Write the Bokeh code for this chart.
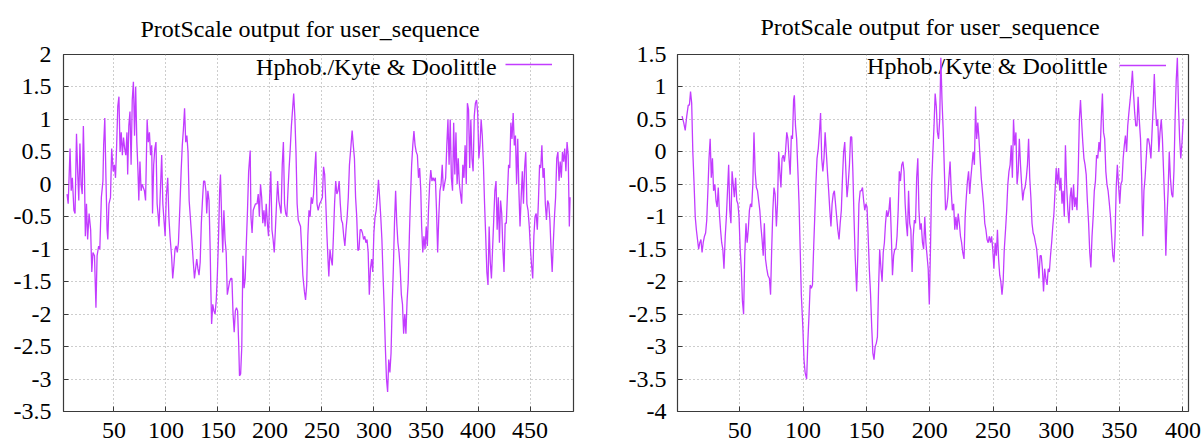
from bokeh.plotting import figure
from bokeh.layouts import row
from bokeh.models import (Range1d, FixedTicker, Label, Legend, LegendItem,
                          CustomJSTickFormatter)
from bokeh.embed import file_html
from bokeh.resources import INLINE

TITLE = "ProtScale output for user_sequence"
SERIES = "Hphob./Kyte & Doolittle"

# ---- left panel: position (residue) and hydrophobicity score ----
left_x = [
    4.9, 6.0, 7.8, 8.9, 10.0, 11.5, 12.6, 14.0, 15.1, 16.2,
    17.3, 18.4, 19.5, 20.6, 21.7, 22.5, 23.6, 24.7, 26.1, 27.6,
    28.7, 29.8, 31.3, 32.7, 33.8, 35.3, 36.4, 37.9, 39.4, 40.1,
    41.2, 42.3, 43.4, 44.1, 45.2, 46.7, 47.8, 49.3, 50.4, 51.5,
    52.6, 53.7, 54.8, 55.9, 57.0, 58.1, 59.2, 60.3, 61.4, 62.5,
    63.2, 64.3, 65.4, 66.5, 67.6, 68.7, 69.8, 70.9, 72.0, 73.1,
    73.9, 75.0, 76.1, 77.1, 78.2, 79.3, 80.4, 81.9, 83.0, 84.1,
    85.2, 86.3, 87.1, 88.2, 89.3, 90.4, 91.5, 92.6, 93.3, 94.4,
    95.9, 97.0, 98.1, 99.2, 100.3, 101.7, 102.8, 103.9, 105.4, 106.5,
    107.6, 108.7, 109.8, 110.9, 112.0, 113.5, 114.6, 115.7, 116.8, 117.9,
    119.0, 120.1, 121.2, 122.3, 123.4, 124.9, 126.3, 127.4, 128.5, 129.6,
    130.7, 131.8, 132.9, 134.0, 135.1, 136.2, 137.3, 138.4, 139.2, 140.3,
    141.4, 142.5, 143.2, 143.9, 145.0, 146.1, 147.2, 148.3, 149.4, 150.5,
    151.6, 152.4, 153.5, 154.6, 155.7, 156.8, 157.9, 159.0, 160.1, 161.2,
    162.3, 163.4, 164.5, 165.6, 166.7, 167.8, 168.9, 170.0, 170.7, 171.8,
    172.9, 174.0, 175.1, 176.2, 177.3, 178.4, 179.5, 181.0, 181.7, 182.8,
    183.9, 185.0, 186.1, 187.6, 188.7, 189.8, 190.9, 192.0, 193.1, 194.2,
    195.3, 196.4, 197.5, 198.6, 199.7, 200.8, 201.9, 203.0, 204.1, 205.2,
    206.3, 207.4, 208.5, 209.6, 210.7, 211.8, 212.9, 214.0, 215.1, 216.2,
    217.3, 218.4, 219.5, 220.6, 221.7, 222.8, 223.9, 225.0, 226.1, 227.2,
    228.3, 229.4, 230.5, 231.6, 233.1, 234.2, 235.3, 236.4, 237.5, 238.6,
    239.7, 240.8, 241.9, 243.0, 244.1, 245.2, 246.3, 247.8, 249.3, 250.4,
    251.5, 252.6, 253.7, 254.8, 255.9, 256.6, 257.7, 258.8, 259.9, 261.0,
    262.1, 263.2, 264.3, 265.4, 266.5, 267.6, 268.7, 269.8, 270.9, 272.0,
    273.1, 274.2, 275.3, 276.4, 277.9, 279.0, 280.1, 281.2, 282.3, 283.4,
    284.5, 285.6, 286.7, 287.8, 288.9, 290.0, 291.1, 292.2, 293.3, 294.4,
    295.5, 296.6, 297.7, 298.8, 299.9, 301.0, 302.1, 303.2, 304.3, 305.4,
    306.5, 307.6, 308.7, 309.8, 310.9, 312.0, 313.1, 314.2, 315.3, 316.4,
    317.5, 318.6, 319.7, 320.8, 321.9, 323.0, 324.1, 325.2, 326.3, 327.4,
    328.5, 329.6, 330.7, 331.8, 332.9, 334.0, 335.1, 336.2, 337.3, 338.4,
    339.5, 340.6, 341.7, 342.8, 343.9, 345.0, 345.8, 346.9, 348.0, 349.1,
    350.2, 351.3, 352.4, 353.5, 354.6, 355.7, 356.8, 357.9, 359.0, 360.1,
    361.2, 362.3, 363.4, 364.5, 365.6, 366.7, 367.8, 368.9, 370.0, 371.1,
    372.2, 373.3, 374.4, 375.5, 376.6, 377.7, 378.8, 379.9, 381.0, 382.1,
    383.2, 384.3, 385.4, 386.5, 387.6, 388.7, 389.8, 390.9, 392.0, 393.1,
    394.2, 395.3, 396.4, 397.5, 398.6, 399.7, 400.8, 401.9, 403.0, 404.1,
    405.2, 406.3, 407.4, 408.5, 409.6, 410.7, 411.8, 412.9, 414.0, 415.1,
    416.2, 417.3, 418.4, 419.5, 420.6, 421.7, 422.8, 423.9, 425.0, 426.1,
    427.2, 428.3, 429.4, 430.5, 431.6, 432.7, 433.8, 434.9, 436.0, 437.1,
    438.2, 439.3, 440.4, 441.5, 442.6, 443.7, 444.8, 445.9, 447.0, 448.1,
    449.3, 450.4, 451.5, 452.6, 453.7, 454.8, 455.9, 457.0, 458.1, 459.2,
    460.3, 461.4, 462.5, 463.6, 464.7, 465.8, 466.9, 468.0, 469.1, 470.2,
    471.3, 472.4, 473.5, 474.6, 475.7, 476.8, 477.9, 479.0, 480.1, 481.2,
    482.3, 483.4, 484.5, 485.6, 486.7, 487.8, 488.5,
]
left_y = [
    -0.15, -0.30, 0.55, -0.10, 0.10, -0.40, -0.45, 0.78, 0.20, -0.25,
    0.63, 0.00, -0.15, 0.90, 0.10, -0.80, -0.30, -0.85, -0.45, -0.70,
    -1.35, -1.05, -1.10, -1.90, -1.10, -0.95, -1.00, -0.20, 0.05, 0.60,
    1.02, 0.10, -0.70, -0.85, -0.30, -0.20, 0.55, 0.20, 0.30, 0.10,
    0.60, 1.20, 1.35, 0.50, 0.80, 0.45, 0.72, 0.55, 0.45, 0.80,
    0.15, 0.90, 1.12, 0.30, 1.30, 1.58, 0.75, 1.50, 0.65, 0.20,
    -0.25, 0.35, -0.10, 0.00, -0.05, -0.10, -0.25, 1.00, 0.65, 0.80,
    0.45, 0.60, -0.45, 0.30, 0.55, 0.65, -0.30, -0.50, -0.65, -0.20,
    0.45, -0.30, -0.55, -0.80, -0.20, 0.10, -0.50, -0.80, -1.10, -1.45,
    -1.25, -1.00, -0.95, -1.05, -0.90, -0.30, 0.20, 0.60, 0.85, 1.17,
    0.65, 0.75, 0.50, -0.25, -0.50, -0.85, -1.20, -1.45, -1.30, -1.15,
    -1.30, -1.40, -1.20, -0.60, -0.25, 0.05, 0.05, -0.10, -0.45, -0.10,
    -0.25, -1.00, -1.65, -2.15, -1.85, -1.95, -2.00, -1.80, -1.40, -0.85,
    -0.10, 0.15, -0.50, -1.05, -0.40, -0.85, -1.05, -1.70, -1.60, -1.50,
    -1.45, -1.45, -2.00, -2.28, -1.95, -1.90, -1.95, -2.50, -2.95, -2.92,
    -2.50, -1.10, -1.60, -1.45, -0.90, -0.40, 0.20, 0.52, -0.50, -0.75,
    -0.40, -0.35, -0.30, -0.30, -0.15, -0.50, 0.00, -0.20, -0.60, -0.40,
    -0.65, -0.30, -0.60, -0.80, -0.20, 0.20, -0.70, -0.85, -1.05, -0.70,
    -0.30, 0.05, -0.25, -0.35, -0.45, 0.30, 0.65, -0.30, -0.45, -0.50,
    -0.10, 0.25, 0.55, 0.90, 1.15, 1.40, 1.05, 0.50, -0.30, -0.55,
    -0.60, -0.65, -1.00, -1.40, -1.65, -1.78, -1.55, -0.80, -0.40, -0.50,
    -0.20, -0.30, -0.15, 0.20, 0.50, -0.30, -0.40, -0.30, -0.25, -0.20,
    0.27, 0.15, -0.30, -0.80, -1.20, -1.42, -1.00, -1.15, -1.25, -0.80,
    -0.30, 0.05, -0.15, -0.10, 0.05, -0.30, -0.55, -0.60, -0.80, -0.95,
    -0.70, -0.50, -0.20, 0.30, 0.60, 0.83, 0.60, 0.40, -0.20, -0.50,
    -1.02, -1.00, -0.70, -0.70, -0.75, -0.85, -0.80, -0.90, -0.85, -1.05,
    -1.70, -1.30, -1.15, -1.35, -0.75, -0.50, -0.40, -0.20, 0.07, -0.20,
    -0.50, -0.85, -1.40, -1.90, -2.50, -3.00, -3.20, -2.70, -2.90, -2.60,
    -1.85, -1.30, -0.60, -0.10, -0.60, -0.90, -1.05, -1.30, -1.70, -1.85,
    -2.30, -2.00, -2.30, -1.80, -1.50, -0.80, -0.20, 0.30, 0.60, 0.82,
    0.60, 0.50, 0.45, 0.10, 0.25, -0.10, -0.65, -1.05, -0.80, -1.00,
    -0.65, -0.95, -0.40, 0.00, 0.22, 0.05, 0.10, 0.05, 0.10, -0.40,
    -1.05, -0.50, -0.10, 0.00, 0.30, -0.10, 0.00, 0.10, 0.60, 1.00,
    0.30, 1.00, 0.10, -0.10, 0.95, 0.15, 0.80, 0.00, 0.40, 0.00,
    -0.15, -0.30, 0.30, 0.10, 0.60, 0.00, 1.25, 1.15, 0.25, 1.00,
    0.40, 0.20, 1.05, 1.25, 1.30, 1.10, 0.40, 0.60, 1.00, 0.75,
    0.30, -0.30, -0.80, -1.35, -1.55, -0.65, -1.20, -1.45, -1.00, -0.55,
    -0.10, 0.05, -0.70, -0.20, -0.90, -0.25, -0.45, -1.00, -1.35, -0.60,
    -0.60, -0.15, 0.30, 0.25, 0.95, 0.70, 1.10, 0.60, 0.75, 0.00,
    0.70, -0.10, -0.65, -0.20, 0.20, -0.30, 0.25, 0.50, -0.30, -0.40,
    -0.65, -1.00, -1.25, -1.45, -0.80, -0.50, -0.45, -0.70, -0.25, 0.30,
    0.25, 0.60, 0.10, 0.25, -0.30, -0.55, -0.25, -0.30, -0.55, -1.00,
    -1.35, -0.90, -0.50, -0.20, 0.40, 0.50, 0.05, 0.35, 0.10, 0.50,
    0.35, 0.55, 0.20, 0.65, 0.45, -0.65, -0.20,
]

# ---- right panel ----
right_x = [
    4.4, 5.7, 6.9, 8.1, 9.3, 10.2, 11.1, 12.0, 12.9, 13.9,
    14.8, 15.7, 16.6, 17.5, 18.4, 19.3, 20.2, 21.1, 22.1, 23.0,
    23.9, 24.8, 25.7, 26.6, 27.5, 28.4, 29.3, 30.3, 31.2, 32.1,
    33.0, 33.9, 34.8, 35.7, 36.6, 37.5, 38.5, 39.4, 40.3, 41.2,
    42.1, 43.0, 43.9, 44.8, 45.7, 46.7, 47.6, 48.5, 49.4, 50.3,
    51.2, 52.1, 53.0, 53.9, 54.9, 55.8, 56.7, 57.6, 58.5, 59.4,
    60.3, 61.2, 62.1, 63.1, 64.0, 64.9, 65.8, 66.7, 67.6, 68.5,
    69.4, 70.3, 71.3, 72.2, 73.4, 74.3, 75.2, 76.1, 77.0, 77.9,
    78.9, 79.8, 80.7, 81.6, 82.5, 83.4, 84.3, 85.2, 86.1, 87.1,
    88.0, 88.9, 89.8, 90.7, 91.6, 92.5, 93.1, 94.0, 94.9, 95.9,
    96.8, 97.7, 98.6, 99.8, 100.7, 101.6, 102.8, 103.8, 104.7, 105.6,
    106.5, 107.4, 108.3, 109.2, 110.1, 111.0, 112.0, 112.9, 113.8, 114.7,
    115.6, 116.5, 117.4, 118.3, 119.2, 120.2, 121.1, 122.0, 122.9, 123.8,
    124.7, 125.6, 126.5, 127.4, 128.4, 129.3, 130.2, 131.1, 132.0, 132.9,
    133.8, 134.7, 135.6, 136.6, 137.5, 138.4, 139.3, 140.2, 141.1, 142.3,
    143.2, 144.1, 145.1, 146.0, 146.9, 147.8, 148.7, 149.6, 150.5, 151.4,
    152.3, 153.3, 154.2, 155.1, 156.0, 156.9, 157.8, 158.7, 159.6, 160.5,
    161.5, 162.4, 163.3, 164.2, 165.1, 166.0, 166.9, 167.8, 168.7, 169.7,
    170.6, 171.5, 172.4, 173.3, 174.2, 175.1, 176.0, 176.9, 177.9, 178.8,
    179.7, 180.6, 181.5, 182.4, 183.3, 184.2, 185.1, 186.1, 187.0, 187.9,
    188.8, 189.7, 190.6, 191.5, 192.4, 193.3, 194.3, 195.2, 196.1, 197.0,
    197.9, 198.8, 199.7, 200.6, 201.5, 202.5, 203.4, 204.3, 205.2, 206.1,
    207.0, 207.9, 208.8, 209.7, 210.7, 211.6, 212.5, 213.4, 214.3, 215.2,
    216.1, 217.0, 217.9, 218.9, 219.8, 220.7, 221.6, 222.5, 223.4, 224.3,
    225.2, 226.1, 227.1, 228.0, 228.9, 229.8, 230.7, 231.6, 232.5, 233.4,
    234.3, 235.3, 236.2, 237.1, 238.0, 238.9, 239.8, 240.7, 241.6, 242.5,
    243.5, 244.4, 245.3, 246.2, 247.1, 248.0, 248.9, 249.8, 250.7, 251.7,
    252.6, 253.5, 254.4, 255.3, 256.2, 257.1, 258.0, 258.9, 259.9, 260.8,
    261.7, 262.6, 263.5, 264.4, 265.3, 266.2, 267.1, 268.1, 269.0, 269.9,
    270.8, 271.7, 272.6, 273.5, 274.4, 275.3, 276.3, 277.2, 278.1, 279.0,
    279.9, 280.8, 281.7, 282.6, 283.5, 284.5, 285.4, 286.3, 287.2, 288.1,
    289.0, 289.9, 290.8, 291.7, 292.7, 293.6, 294.5, 295.4, 296.3, 297.2,
    298.1, 299.0, 299.9, 300.9, 301.8, 302.7, 303.6, 304.5, 305.4, 306.3,
    307.2, 308.1, 309.1, 310.0, 310.9, 311.8, 312.7, 313.6, 314.5, 315.4,
    316.3, 317.3, 318.2, 319.1, 320.0, 320.9, 321.8, 322.7, 323.6, 324.5,
    325.5, 326.4, 327.3, 328.2, 329.1, 330.0, 330.9, 331.8, 332.7, 333.7,
    334.6, 335.5, 336.4, 337.3, 338.2, 339.1, 340.0, 340.9, 341.9, 342.8,
    343.7, 344.6, 345.5, 346.4, 347.3, 348.2, 349.1, 350.1, 351.0, 351.9,
    352.8, 353.7, 354.6, 355.5, 356.4, 357.3, 358.3, 359.2, 360.1, 361.0,
    361.9, 362.8, 363.7, 364.6, 365.5, 366.5, 367.4, 368.3, 369.2, 370.1,
    371.0, 371.9, 372.8, 373.7, 374.7, 375.6, 376.5, 377.4, 378.3, 379.2,
    380.1, 381.0, 381.9, 382.9, 383.8, 384.7, 385.6, 386.5, 387.4, 388.3,
    389.2, 390.1, 391.1, 392.0, 392.9, 393.8, 394.7, 395.6, 396.5, 397.4,
    398.3, 399.3, 400.2, 400.8,
]
right_y = [
    0.55, 0.45, 0.33, 0.55, 0.72, 0.72, 0.93, 0.75, 0.00, -0.50,
    -1.00, -1.20, -1.35, -1.50, -1.40, -1.35, -1.55, -1.40, -1.30, -1.25,
    -1.05, -0.60, -0.10, 0.20, -0.40, -0.10, -0.60, -0.50, -0.75, -0.85,
    -0.55, -0.95, -1.20, -1.40, -1.50, -1.80, -1.30, -1.00, -0.60, -0.20,
    -0.90, -1.10, -0.30, -0.50, -0.70, -0.40, -0.75, -0.80, -1.00, -1.50,
    -1.80, -2.30, -2.50, -1.60, -1.10, -1.40, -1.20, -0.90, -0.80, -0.85,
    -0.50, 0.30, -0.30, -0.55, -0.60, -0.75, -0.90, -1.15, -1.35, -1.60,
    -1.10, -1.65, -1.80, -1.90, -1.95, -2.20, -1.50, -0.90, -0.55, -0.65,
    -1.15, -0.80, 0.00, -0.30, -0.55, -0.10, -0.05, -0.15, 0.00, 0.30,
    0.20, -0.10, -0.35, 0.25, 0.20, 0.80, 0.87, 0.40, 0.20, -0.30,
    -0.80, -1.50, -2.20, -2.70, -3.20, -3.40, -3.50, -2.90, -2.50, -2.05,
    -2.10, -2.05, -1.50, -1.00, -0.50, -0.10, 0.05, 0.30, 0.60, -0.10,
    -0.30, -0.10, 0.30, 0.00, -0.30, -0.60, -0.90, -1.15, -0.80, -0.65,
    -0.60, -0.80, -1.00, -1.20, -1.35, -1.10, -0.90, -0.40, 0.00, 0.15,
    -0.30, -0.70, -0.50, -0.20, 0.23, 0.23, -0.30, -1.00, -1.60, -2.15,
    -1.60, -0.80, -0.60, -0.60, -0.55, -0.75, -0.90, -0.80, -0.85, -1.30,
    -1.80, -2.20, -2.70, -3.10, -3.20, -3.00, -2.95, -2.85, -2.10, -1.50,
    -1.80, -2.00, -1.55, -1.40, -1.10, -0.90, -1.00, -0.90, -0.70, -1.30,
    -1.90, -1.60, -1.50, -1.50, -1.30, -0.90, -0.30, -0.45, -0.20, -0.15,
    -0.30, -0.80, -1.10, -1.30, -0.60, -1.10, -1.20, -1.85, -1.30, -1.05,
    -1.10, -0.40, -0.10, -0.90, -1.20, -1.10, -1.40, -1.50, -1.00, -1.40,
    -1.60, -1.80, -2.35, -1.50, -0.50, 0.00, 0.40, 0.90, 0.70, 0.30,
    0.20, 0.50, 1.45, 0.80, 0.30, -0.30, -0.90, -0.85, -0.70, -0.40,
    -0.15, -0.60, -0.90, -0.80, -1.20, -1.00, -1.20, -0.95, -1.10, -1.30,
    -1.40, -1.55, -1.65, -1.00, -0.70, -0.45, -0.30, -0.65, -0.40, -0.20,
    0.00, -0.20, 0.70, 0.20, 0.45, 0.20, -0.10, -0.40, -0.60, -0.80,
    -1.10, -1.20, -1.35, -1.40, -1.30, -1.40, -1.30, -1.50, -1.80, -1.40,
    -1.60, -1.20, -1.65, -1.90, -2.00, -2.20, -2.00, -1.50, -1.20, -0.90,
    -0.50, -0.30, -0.20, 0.10, -0.40, 0.50, 0.10, 0.30, -0.50, -0.30,
    0.20, -0.20, -0.50, -0.75, -0.60, -0.55, -0.40, -0.20, 0.20, -0.40,
    -0.70, -1.10, -1.25, -1.30, -1.40, -1.50, -1.70, -1.95, -1.60, -1.60,
    -1.80, -2.15, -1.80, -1.95, -2.05, -1.80, -1.85, -1.60, -1.40, -1.15,
    -0.95, -0.60, -0.25, -0.50, -0.25, -0.60, -0.40, -0.80, -0.60, -1.00,
    0.10, -0.50, -0.90, -1.10, -0.70, -0.55, -0.90, -0.50, -0.85, -0.70,
    -0.90, -0.30, 0.50, 0.80, 0.45, 0.15, -0.10, -0.20, -0.35, -0.75,
    -1.10, -1.55, -1.78, -1.30, -1.00, -0.60, -0.45, -0.05, -0.10, 0.15,
    0.00, 0.50, 0.90, 0.30, 0.20, -0.30, -0.50, -0.60, -0.80, -1.00,
    -1.30, -1.60, -1.70, -1.30, -0.55, -0.20, -0.50, -0.80, -0.50, -0.45,
    -0.10, 0.10, 0.25, 0.00, 0.40, 0.60, 0.80, 1.00, 1.25, 0.90,
    0.60, 0.40, 0.40, 0.85, 0.50, 0.20, -0.40, -1.30, -0.60, -0.40,
    -0.10, 0.20, 0.20, 0.10, -0.10, 0.30, 0.70, 1.20, 0.70, 0.40,
    0.50, 0.00, 0.30, 0.50, 0.20, -0.30, -0.80, -1.60, -1.00, -0.60,
    0.00, -0.40, -0.65, -0.70, -0.30, 0.50, 1.10, 1.45, 0.70, 0.20,
    -0.10, 0.15, 0.50, 0.50,
]

left_xticks = [50, 100, 150, 200, 250, 300, 350, 400, 450]
left_yticks = [-3.5, -3, -2.5, -2, -1.5, -1, -0.5, 0, 0.5, 1, 1.5, 2]
right_xticks = [50, 100, 150, 200, 250, 300, 350, 400]
right_yticks = [-4, -3.5, -3, -2.5, -2, -1.5, -1, -0.5, 0, 0.5, 1, 1.5]

FONT = "Liberation Serif"
LINE_COLOR = "#c23cff"
FRAME_COLOR = "#3a3a3a"


def make_panel(xs, ys, xr, yr, xticks, yticks, width, b_left, b_right, b_top,
               b_bottom, title_offset, title_standoff, legend_loc, label_xy, ystandoff):
    n = min(len(xs), len(ys))
    p = figure(width=width, height=441, output_backend="svg", toolbar_location=None,
               x_range=Range1d(*xr), y_range=Range1d(*yr),
               min_border_left=b_left, min_border_right=b_right,
               min_border_top=b_top, min_border_bottom=b_bottom,
               background_fill_color="white", border_fill_color="white")
    p.title.text = TITLE
    p.title.text_font = FONT
    p.title.text_font_size = "24px"
    p.title.text_font_style = "normal"
    p.title.text_color = "black"
    p.title.align = "left"
    p.title.vertical_align = "top"
    p.title.offset = title_offset
    p.title.standoff = title_standoff

    fmt = CustomJSTickFormatter(code="return tick.toString();")

    xa = p.xaxis[0]
    xa.ticker = FixedTicker(ticks=xticks)
    xa.formatter = fmt
    ya = p.yaxis[0]
    ya.ticker = FixedTicker(ticks=yticks)
    ya.formatter = fmt
    for ax, so in ((xa, 11), (ya, ystandoff)):
        ax.axis_line_color = None
        ax.major_tick_in = 5
        ax.major_tick_out = 0
        ax.major_tick_line_color = FRAME_COLOR
        ax.minor_tick_line_color = None
        ax.major_label_text_font = FONT
        ax.major_label_text_font_size = "24px"
        ax.major_label_text_color = "black"
        ax.major_label_standoff = so

    p.xgrid.ticker = FixedTicker(ticks=xticks)
    p.ygrid.ticker = FixedTicker(ticks=yticks)
    for g in (p.xgrid, p.ygrid):
        g.grid_line_color = "#9a9a9a"
        g.grid_line_dash = "1 3"
        g.grid_line_width = 1

    p.outline_line_color = FRAME_COLOR
    p.outline_line_width = 1.2

    lab = Label(x=label_xy[0], y=label_xy[1], text=SERIES, text_font=FONT,
                text_font_size="24px", text_align="right",
                text_baseline="middle", text_color="black", level="underlay")
    p.add_layout(lab)

    r = p.line(xs[:n], ys[:n], line_color=LINE_COLOR, line_width=1.3)

    leg = Legend(items=[LegendItem(label=" ", renderers=[r])], location=legend_loc,
                 glyph_width=47, glyph_height=6, label_width=0, label_height=6,
                 label_standoff=0, label_text_font_size="6px", padding=0, spacing=0,
                 margin=0, border_line_color=None, background_fill_alpha=0)
    p.add_layout(leg, "center")
    return p


left = make_panel(left_x, left_y, (1.5, 491.8), (-3.5, 2), left_xticks, left_yticks,
                  600, 63, 27, 51, 30, 77, 22, (442, 344), (418.0, 1.80), 12)
right = make_panel(right_x, right_y, (0.8, 404.4), (-4, 1.5), right_xticks, right_yticks,
                   603, 77, 15, 54, 30, 83, 25, (442, 343), (340.6, 1.33), 11)

layout = row(left, right)
open("out.html", "w").write(file_html(layout, INLINE))
